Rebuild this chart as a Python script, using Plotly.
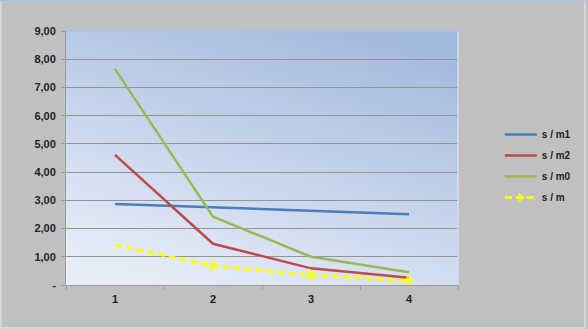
import base64
import plotly.graph_objects as go

categories = ["1", "2", "3", "4"]
s_m1 = [2.87, 2.75, 2.63, 2.51]
s_m2 = [4.61, 1.46, 0.59, 0.26]
s_m0 = [7.66, 2.42, 1.00, 0.45]
s_m = [1.42, 0.68, 0.35, 0.15]
y_ticks = [0, 1, 2, 3, 4, 5, 6, 7, 8, 9]
y_tick_labels = ["-", "1,00", "2,00", "3,00", "4,00", "5,00", "6,00", "7,00", "8,00", "9,00"]

W, H = 588, 329
L, R, T, B = 66, 128, 31, 44
pw, ph = W - L - R, H - T - B

svg = ('<svg xmlns="http://www.w3.org/2000/svg" width="394" height="254" viewBox="0 0 394 254" preserveAspectRatio="none">'
       '<defs><linearGradient id="g" x1="0.75" y1="0" x2="0.25" y2="1">'
       '<stop offset="0" stop-color="#a4bade"/><stop offset="1" stop-color="#e6edf8"/>'
       '</linearGradient></defs><rect width="394" height="254" fill="url(#g)"/></svg>')
src = "data:image/svg+xml;base64," + base64.b64encode(svg.encode()).decode()

fig = go.Figure()
fig.add_trace(go.Scatter(x=categories, y=s_m1, name="s / m1", mode="lines", legendgroup="a",
                         line=dict(color="#4a7ebb", width=2.5)))
fig.add_trace(go.Scatter(x=categories, y=s_m2, name="s / m2", mode="lines", legendgroup="b",
                         line=dict(color="#be4b48", width=2.5)))
fig.add_trace(go.Scatter(x=categories, y=s_m0, name="s / m0", mode="lines", legendgroup="c",
                         line=dict(color="#98b954", width=2.5)))
fig.add_trace(go.Scatter(x=categories, y=s_m, name="s / m", mode="lines+markers", legendgroup="d",
                         line=dict(color="#ffff00", width=3, dash="7px,4px"),
                         marker=dict(symbol="triangle-up", angleref="previous",
                                     size=[0, 12, 12, 12], color="#ffff00",
                                     line=dict(width=0))))

fig.add_layout_image(dict(source=src, xref="paper", yref="paper", x=0, y=1,
                          sizex=1, sizey=1, xanchor="left", yanchor="top",
                          sizing="stretch", layer="below"))

# plot-area light edge (top / right)
fig.add_shape(type="line", xref="paper", yref="paper", x0=0, x1=1, y0=1, y1=1,
              line=dict(color="#a6c0ec", width=1.5), layer="above")
fig.add_shape(type="line", xref="paper", yref="paper", x0=1, x1=1, y0=0, y1=1,
              line=dict(color="#d3def2", width=1.5), layer="above")
# outer frame
fig.add_shape(type="rect", xref="paper", yref="paper",
              x0=-L / pw + 0.5 / pw, x1=1 + (R - 0.5) / pw,
              y0=-B / ph + 1 / ph, y1=1 + (T - 0.5) / ph,
              line=dict(color="#dcdcdc", width=1.5), layer="below")
fig.add_shape(type="line", xref="paper", yref="paper",
              x0=-L / pw, x1=1 + R / pw, y0=1 + (T - 0.6) / ph, y1=1 + (T - 0.6) / ph,
              line=dict(color="#a6c0ec", width=1.5), layer="below")

font = dict(family="Liberation Sans", size=10, color="#333333")
fig.update_layout(
    width=W, height=H,
    margin=dict(l=L, r=R, t=T, b=B),
    paper_bgcolor="#c0c0c0",
    plot_bgcolor="rgba(0,0,0,0)",
    font=font,
    showlegend=True,
    legend=dict(x=(502 - L) / pw, xanchor="left", y=(H - B - 120) / ph, yanchor="top",
                bgcolor="rgba(0,0,0,0)", font=dict(family="Liberation Sans", size=10,
                                                    color="#222222", weight="bold"),
                traceorder="grouped", tracegroupgap=2, itemwidth=32),
    xaxis=dict(type="category", range=[-0.5, 3.5], showgrid=False,
               showline=True, linecolor="#9c9c9c", linewidth=1,
               ticks="outside", ticklen=4, tickcolor="#9c9c9c", tickson="boundaries",
               ticklabelstandoff=4,
               tickfont=dict(family="Liberation Sans", size=11, color="#222222", weight="bold"),
               fixedrange=True),
    yaxis=dict(range=[0, 9], tickvals=y_ticks, ticktext=y_tick_labels,
               showgrid=True, gridcolor="#949494", gridwidth=1,
               showline=True, linecolor="#9c9c9c", linewidth=1,
               ticks="outside", ticklen=4, tickcolor="#9c9c9c", ticklabelstandoff=3,
               tickfont=dict(family="Liberation Sans", size=11, color="#222222", weight="bold"),
               zeroline=False, fixedrange=True),
)

fig.write_html("out.html")
